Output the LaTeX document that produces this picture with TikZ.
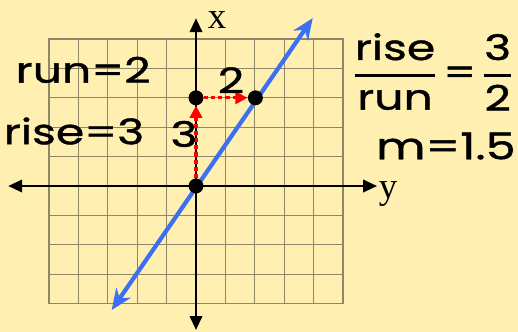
\documentclass[tikz,border=0pt]{standalone}
\usepackage{amsmath}
\usepackage{fontspec}
\newfontfamily\hand[FakeStretch=1.3, FakeBold=1.2]{Poppins}
\newfontfamily\axisfont{Liberation Serif}
\usetikzlibrary{arrows.meta}

\definecolor{paper}{HTML}{FFFDCC}
\definecolor{paperedge}{HTML}{FFEFB0}
\definecolor{gridline}{HTML}{8E876A}
\definecolor{lineblue}{HTML}{3D6FF2}

\begin{document}
\begin{tikzpicture}[
		x=0.588cm, y=0.588cm,
		axis/.style={{Triangle[length=8pt,width=7pt]}-{Triangle[length=8pt,width=7pt]}, line width=1.6pt, black},
		graphline/.style={{Stealth[length=12pt,width=10pt]}-{Stealth[length=12pt,width=10pt]}, line width=2.4pt, lineblue},
		stepline/.style={-{Triangle[length=7pt,width=7pt]}, line width=1.8pt, red, dash pattern=on 2.4pt off 1.7pt},
		dot/.style={circle, fill=black, inner sep=0pt, minimum size=8.5pt},
		hand/.style={font=\hand\fontsize{20}{24}\selectfont, inner sep=0pt},
		axlabel/.style={font=\axisfont\fontsize{21}{24}\selectfont, inner sep=0pt}
	]

	% paper
	\shade[shading angle=-45, top color=paperedge, middle color=paper, bottom color=paperedge]
	(-6.667,-4.932) rectangle (10.952,6.327);
	\useasboundingbox (-6.667,-4.932) rectangle (10.952,6.327);

	% grid and axes
	\draw[gridline, line width=0.6pt, step=1] (-5,-4) grid (5,5);
	\draw[gridline, line width=1pt] (-5,-4) rectangle (5,5);

	\coordinate (ax_left) at (-6.39,0);
	\coordinate (ax_right) at (6.16,0);
	\coordinate (ax_bottom) at (0,-4.9);
	\coordinate (ax_top) at (0,5.71);
	\draw[axis] (ax_left) -- (ax_right);
	\draw[axis] (ax_bottom) -- (ax_top);
	\node[axlabel] (lbl_x) at (0.72,5.66) {x};
	\node[axlabel] (lbl_y) at (6.53,-0.27) {y};

	% the line y = 1.5x
	\coordinate (line_lo) at (-2.87,-4.22);
	\coordinate (line_hi) at (3.97,5.71);
	\draw[graphline] (line_lo) -- (line_hi);

	% rise and run
	\node[dot] (pt_o) at (0,0) {};
	\node[dot] (pt_up) at (0,3) {};
	\node[dot] (pt_run) at (2.02,3) {};
	\draw[stepline] (pt_o) -- (pt_up);
	\draw[stepline] (pt_up) -- (pt_run);
	\node[hand] (lbl_three) at (-0.41,1.77) {3};
	\node[hand] (lbl_two) at (1.19,3.6) {2};

	% notes
	\node[hand] (lbl_run) at (-3.84,3.95) {run=2};
	\node[hand] (lbl_rise) at (-4.15,1.87) {rise=3};
	\node[hand] (ratio) at (8.06,3.88)
	{$\genfrac{}{}{1.5pt}{0}{\hbox{\hand rise}}{\hbox{\hand run}}\hbox{\hand\,=\,}\genfrac{}{}{1.5pt}{0}{\hbox{\hand 3}}{\hbox{\hand 2}}$};
	\node[hand, font=\hand\fontsize{21}{25}\selectfont] (slope) at (8.5,1.36) {m=1.5};

\end{tikzpicture}
\end{document}
